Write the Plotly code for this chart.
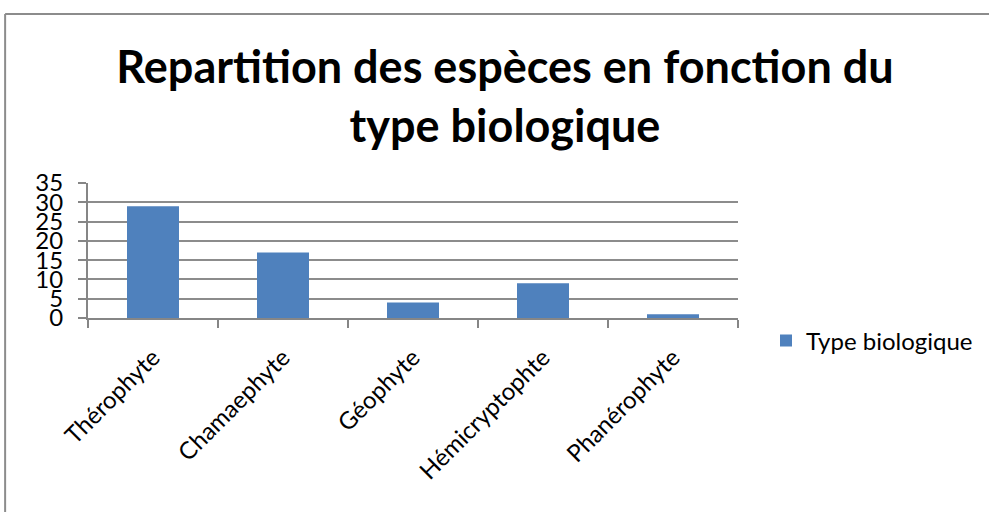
import plotly.graph_objects as go

categories = ["Thérophyte", "Chamaephyte", "Géophyte", "Hémicryptophte", "Phanérophyte"]
values = [29, 17, 4, 9, 1]
series_name = "Type biologique"
y_ticks = [0, 5, 10, 15, 20, 25, 30, 35]

W, H = 989, 512
L, R, T, B = 88, 739, 183, 318

def px(x):
    return (x - L) / (R - L)

def py(y):
    return (B - y) / (B - T)

fig = go.Figure()
fig.add_trace(go.Bar(
    x=categories, y=values, name=series_name,
    marker=dict(color="#4F81BD", line=dict(color="#4F81BD", width=0)),
    showlegend=True,
))

font_family = "Lato, Carlito, Calibri, sans-serif"

fig.update_layout(
    width=W, height=H,
    margin=dict(l=L, r=W - R, t=T, b=H - B, pad=0),
    paper_bgcolor="white", plot_bgcolor="white",
    bargap=0.6,
    font=dict(family=font_family, color="black"),
    title=dict(
        text="<b>Repartition des espèces en fonction du<br>type biologique</b>",
        x=505 / W, xanchor="center", xref="container",
        y=(H - 83) / H, yanchor="top", yref="container",
        font=dict(size=45, family=font_family, color="black"),
    ),
    showlegend=True,
    legend=dict(
        x=px(766), xanchor="left", y=py(341), yanchor="middle",
        font=dict(size=24, family=font_family, color="black"),
        bgcolor="rgba(0,0,0,0)", itemsizing="constant",
    ),
    xaxis=dict(
        type="category", tickangle=-45, tickson="boundaries",
        ticks="outside", ticklen=8, tickcolor="#868686", tickwidth=2,
        showline=True, linecolor="#868686", linewidth=2,
        showgrid=False, ticklabelstandoff=14,
        tickfont=dict(size=24, family=font_family, color="black"),
    ),
    yaxis=dict(
        range=[0, 35], autorange=False, tickvals=y_ticks,
        ticks="outside", ticklen=8, tickcolor="#868686", tickwidth=2,
        showline=True, linecolor="#868686", linewidth=2,
        showgrid=True, gridcolor="#8c8c8c", gridwidth=2,
        zeroline=False, ticklabelstandoff=10,
        tickfont=dict(size=24, family=font_family, color="black"),
    ),
)

# chart border (top and left edges visible)
fig.add_shape(type="line", xref="paper", yref="paper",
              x0=px(5), x1=px(1000), y0=py(14), y1=py(14),
              line=dict(color="#8c8c8c", width=2))
fig.add_shape(type="line", xref="paper", yref="paper",
              x0=px(5), x1=px(5), y0=py(14), y1=py(520),
              line=dict(color="#8c8c8c", width=2))

fig.write_html("out.html", config={"displayModeBar": False},
               post_script="document.body.style.margin='0';document.body.style.overflow='hidden';")
